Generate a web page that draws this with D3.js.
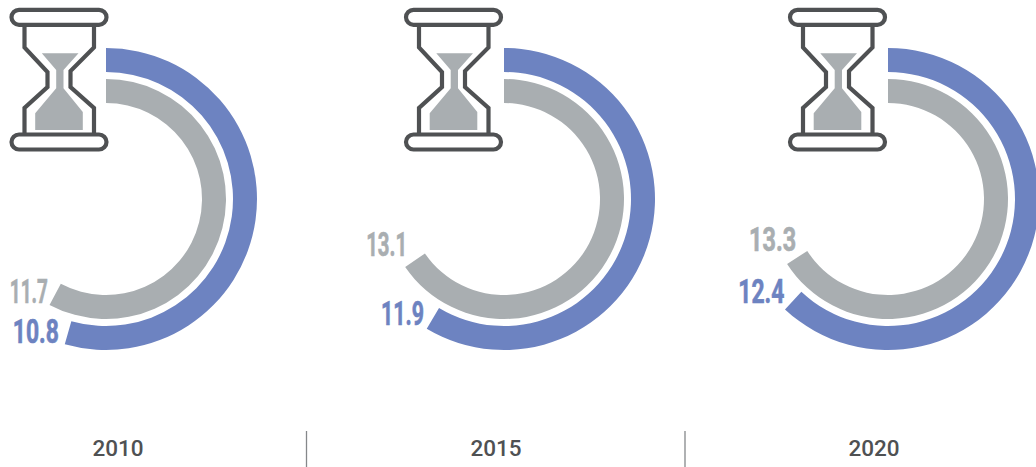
<!DOCTYPE html>
<html>
<head>
<meta charset="utf-8">
<script src="https://cdn.jsdelivr.net/npm/d3@7"></script>
<style>
html, body { margin: 0; padding: 0; background: #fff; overflow: hidden; }
</style>
</head>
<body>
<div id="main"></div>
<script>
// ===========================data===========================
const years = ['2010', '2015', '2020'];
// printed labels
const blueValues = [10.8, 11.9, 12.4];
const greyValues = [11.7, 13.1, 13.3];
// arc lengths, they don't follow the labels exactly
const blueArcs = [10.88, 11.71, 12.39];
const greyArcs = [11.56, 13.08, 13.18];

// ===========================layout=========================
const svgResolution = { width: 1036, height: 467 };
const centerX = [106, 504, 888];
const iconLeft = [-0.5, 394, 778];
const yearX = [118, 496, 874];
const dividerX = [306.5, 685];
const centerY = 199;
const blueColor = '#6d83c1';
const greyColor = '#a9aeb1';
const darkColor = '#4f5153';

// label nudges from the arc end and squeezed label widths, per panel
const blueNudge = [[-6, -1.5], [-2.7, -4], [-0.7, -6.7]];
const greyNudge = [[-1.7, -1.6], [2, -10.7], [9, -13.3]];
const blueWidth = [46, 43, 46];
const greyWidth = [38, 41, 47];

// the whole ring is 20 units
const angle = d3.scaleLinear().domain([0, 20]).range([0, 2 * Math.PI]);

const svg = d3.select('#main').append('svg')
	.attr('width', svgResolution.width)
	.attr('height', svgResolution.height)
	.style('display', 'block');

const rings = [
	{ values: blueValues, arcs: blueArcs, inner: 127, outer: 151, color: blueColor, nudge: blueNudge, widths: blueWidth },
	{ values: greyValues, arcs: greyArcs, inner: 96, outer: 120, color: greyColor, nudge: greyNudge, widths: greyWidth }
];

function drawIcon(g) {
	g.append('path')
		.attr('d', 'M42.3,53.3H79L64,70V88.3L83.3,112V130H35.7V113.3L56.7,88.3V70Z')
		.attr('fill', greyColor);
	g.append('path')
		.attr('d', 'M25,26V47.5L48,72V87L25,108V134M94.5,26V47.5L71,71V87L94.5,108V134')
		.attr('fill', 'none')
		.attr('stroke', darkColor)
		.attr('stroke-width', 4.2);
	[9.8, 134.5].forEach(function(y) {
		g.append('rect')
			.attr('x', 12).attr('y', y)
			.attr('width', 95).attr('height', 15)
			.attr('rx', 7.5)
			.attr('fill', 'none')
			.attr('stroke', darkColor)
			.attr('stroke-width', 4.2);
	});
}

years.forEach(function(year, i) {
	const panel = svg.append('g').attr('class', 'panel');

	rings.forEach(function(ring) {
		const end = angle(ring.arcs[i]);
		const arc = d3.arc()
			.innerRadius(ring.inner)
			.outerRadius(ring.outer)
			.startAngle(0)
			.endAngle(end);
		panel.append('path')
			.attr('transform', 'translate(' + centerX[i] + ',' + centerY + ')')
			.attr('d', arc())
			.attr('fill', ring.color);

		// value label hangs off the arc end
		const tipX = centerX[i] + ring.outer * Math.sin(end);
		const tipY = centerY - ring.outer * Math.cos(end);
		panel.append('text')
			.attr('x', tipX + ring.nudge[i][0])
			.attr('y', tipY + ring.nudge[i][1])
			.attr('text-anchor', 'end')
			.attr('font-family', 'Roboto, sans-serif')
			.attr('font-weight', 700)
			.attr('font-size', 34)
			.attr('textLength', ring.widths[i])
			.attr('lengthAdjust', 'spacingAndGlyphs')
			.attr('fill', ring.color)
			.attr('stroke', ring.color)
			.attr('stroke-width', 0.7)
			.text(ring.values[i].toFixed(1));
	});

	drawIcon(panel.append('g').attr('transform', 'translate(' + iconLeft[i] + ',0)'));

	svg.append('text')
		.attr('x', yearX[i])
		.attr('y', 456)
		.attr('text-anchor', 'middle')
		.attr('font-family', 'Roboto, sans-serif')
		.attr('font-weight', 500)
		.attr('font-size', 22.5)
		.attr('fill', darkColor)
		.text(year);
});

svg.selectAll('line.divider')
	.data(dividerX)
	.enter()
	.append('line')
	.attr('class', 'divider')
	.attr('x1', d => d)
	.attr('x2', d => d)
	.attr('y1', 431)
	.attr('y2', 467)
	.attr('stroke', '#85888a')
	.attr('stroke-width', 1.3);
</script>
</body>
</html>
